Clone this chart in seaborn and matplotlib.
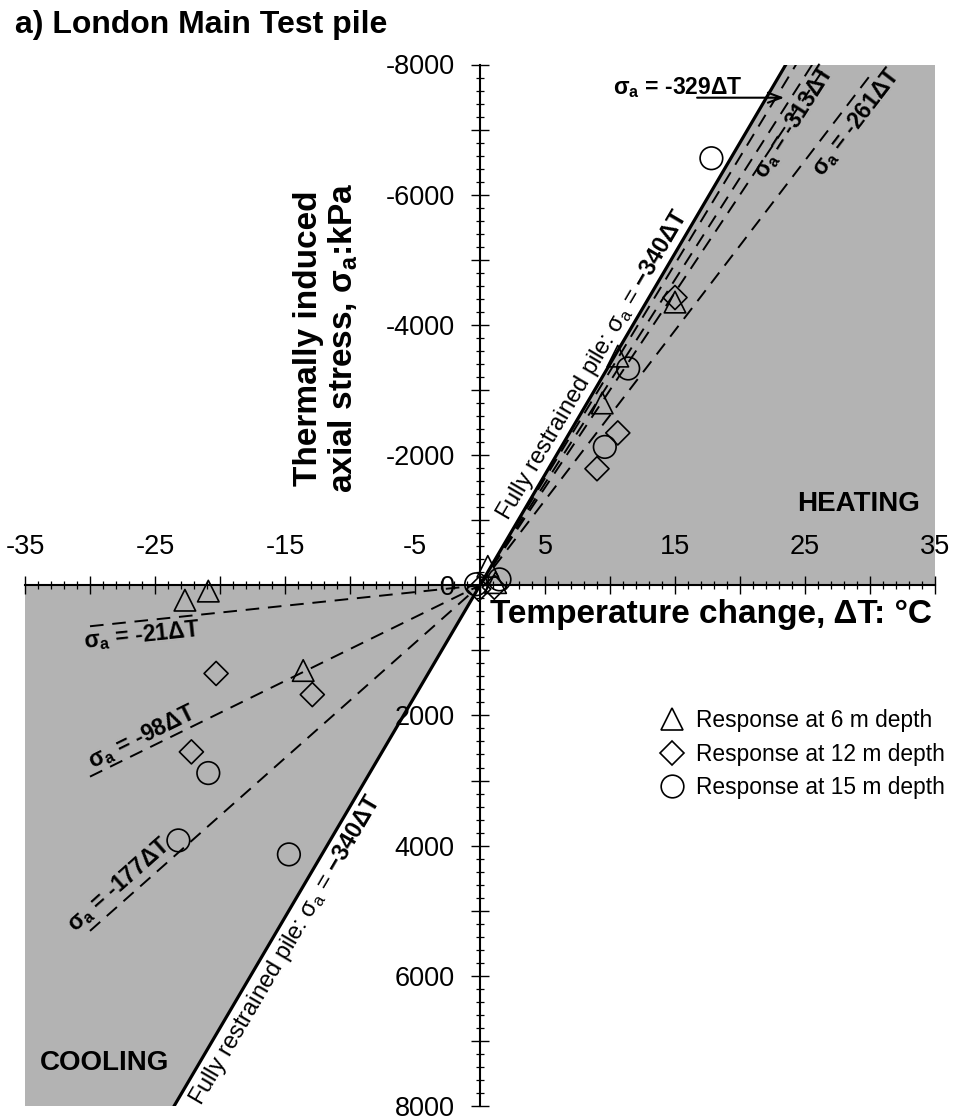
import numpy as np
import pandas as pd
import matplotlib
matplotlib.use('Agg')
import matplotlib.pyplot as plt
from matplotlib.lines import Line2D
from matplotlib.ticker import MultipleLocator, FuncFormatter
import seaborn as sns

# ---------------- data ----------------
x_tick_labels = [-35, -25, -15, -5, 5, 15, 25, 35]
y_tick_labels = [-8000, -6000, -4000, -2000, 0, 2000, 4000, 6000, 8000]

full_restraint_slope = -340
heating_slopes = [-329, -313, -300, -261]
cooling_slopes = [-21, -98, -177]
heating_fit_range = [0, 30]
cooling_fit_range = [-30, 0]

depth_names = ['Response at 6 m depth', 'Response at 12 m depth', 'Response at 15 m depth']
dT_6m = [-22.7, -20.9, -13.6, 0.6, 1.2, 9.4, 10.6, 15.0]
sig_6m = [230, 90, 1310, -290, -40, -2800, -3520, -4350]
dT_12m = [-22.2, -20.3, -12.9, -0.1, 1.1, 9.0, 10.6, 15.0]
sig_12m = [2560, 1355, 1680, 60, 30, -1790, -2340, -4420]
dT_15m = [-23.2, -20.9, -14.7, -0.3, 1.5, 9.6, 11.4, 17.8]
sig_15m = [3920, 2885, 4135, -15, -90, -2125, -3330, -6560]

# ---------------- style ----------------
sns.set_theme(style='ticks')
FONT = ['Liberation Sans', 'DejaVu Sans']
plt.rcParams['font.family'] = FONT
plt.rcParams['mathtext.fontset'] = 'custom'
plt.rcParams['mathtext.rm'] = 'Liberation Sans'
plt.rcParams['mathtext.it'] = 'Liberation Sans:italic'
plt.rcParams['mathtext.bf'] = 'Liberation Sans:bold'
plt.rcParams['axes.unicode_minus'] = False
plt.rcParams['text.color'] = 'black'

W, H = 963, 1120
fig = plt.figure(figsize=(W / 100, H / 100), dpi=100)
fig.patch.set_facecolor('white')
L, R, T, B = 25, 935, 64.5, 1106
ax = fig.add_axes([L / W, 1 - B / H, (R - L) / W, (B - T) / H])
ax.set_facecolor('white')
XMAX, YMAX = 35, 8000
ax.set_xlim(-XMAX, XMAX)
ax.set_ylim(YMAX, -YMAX)

ppT = (R - L) / (2 * XMAX)
ppS = (B - T) / (2 * YMAX)


def ang(slope):
    return np.degrees(np.arctan(abs(slope) * ppS / ppT))


GRAY = '#b3b3b3'
t_edge = YMAX / abs(full_restraint_slope)
ax.fill([0, t_edge, XMAX, XMAX], [0, -YMAX, -YMAX, 0], color=GRAY, lw=0, zorder=0)
ax.fill([0, -t_edge, -XMAX, -XMAX], [0, YMAX, YMAX, 0], color=GRAY, lw=0, zorder=0)

tt = np.array([-XMAX, XMAX])
ax.plot(tt, full_restraint_slope * tt, color='black', lw=2.3, zorder=2)
DASH = (0, (7, 4.5))
for s in heating_slopes:
    t = np.array(heating_fit_range, dtype=float)
    ax.plot(t, s * t, color='black', lw=1.4, ls=DASH, zorder=2)
for s in cooling_slopes:
    t = np.array(cooling_fit_range, dtype=float)
    ax.plot(t, s * t, color='black', lw=1.4, ls=DASH, zorder=2)

df = pd.concat([
    pd.DataFrame({'dT': dT_6m, 'sigma': sig_6m, 'depth': depth_names[0]}),
    pd.DataFrame({'dT': dT_12m, 'sigma': sig_12m, 'depth': depth_names[1]}),
    pd.DataFrame({'dT': dT_15m, 'sigma': sig_15m, 'depth': depth_names[2]}),
])
marker_spec = [('^', 240, 15.5), ('D', 150, 12.2), ('o', 265, 16.3)]
for name, (mk, size, ms) in zip(depth_names, marker_spec):
    sns.scatterplot(data=df[df['depth'] == name], x='dT', y='sigma', marker=mk, s=size,
                    facecolors='none', edgecolor='black', linewidth=1.2, ax=ax,
                    zorder=3, legend=False)
ax.set_xlabel('')
ax.set_ylabel('')

# ---------------- axes through origin ----------------
ax.spines['left'].set_position(('data', 0))
ax.spines['top'].set_position(('data', 0))
ax.spines['right'].set_visible(False)
ax.spines['bottom'].set_visible(False)
for sp in ['left', 'top']:
    ax.spines[sp].set_visible(True)
    ax.spines[sp].set_linewidth(1.5)
    ax.spines[sp].set_color('black')
    ax.spines[sp].set_zorder(2.6)
ax.xaxis.set_ticks_position('top')
ax.yaxis.set_ticks_position('left')
ax.xaxis.set_major_locator(MultipleLocator(5))
ax.xaxis.set_minor_locator(MultipleLocator(1))
ax.yaxis.set_major_locator(MultipleLocator(1000))
ax.yaxis.set_minor_locator(MultipleLocator(200))
ax.xaxis.set_major_formatter(FuncFormatter(lambda v, p: f'{v:.0f}' if int(round(v)) in x_tick_labels else ''))
ax.yaxis.set_major_formatter(FuncFormatter(lambda v, p: f'{v:.0f}' if int(round(v)) in y_tick_labels else ''))
ax.tick_params(which='both', direction='inout', color='black', labelcolor='black')
ax.tick_params(which='major', length=12.5, width=1.0, labelsize=19.5, pad=12)
ax.tick_params(which='minor', length=6, width=0.9)
ax.tick_params(axis='x', which='both', top=True, bottom=False, labeltop=True, labelbottom=False)
ax.tick_params(axis='y', which='both', left=True, right=False)

# ---------------- annotations ----------------
SIG = r'σ$_\mathregular{a}$'
FS = 16.5


def rot_text(x, y, s, slope, weight='bold', fs=FS):
    ax.text(x, y, s, rotation=ang(slope), rotation_mode='anchor', ha='left', va='baseline',
            fontsize=fs, fontweight=weight, zorder=5, color='black')


def along(slope, t0, off_pt, s, va, fs=FS):
    a = np.radians(ang(slope))
    ax.annotate(s, xy=(t0, slope * t0), xytext=(-np.sin(a) * off_pt, np.cos(a) * off_pt),
                textcoords='offset points', rotation=np.degrees(a), rotation_mode='anchor',
                ha='left', va=va, fontsize=fs, zorder=5, color='black')


full_txt = 'Fully restrained pile: ' + SIG + r' = $\mathbf{-340\Delta T}$'
along(full_restraint_slope, 2.67, 6, full_txt, 'baseline', fs=17)
along(full_restraint_slope, -23.0, -3, full_txt, 'top', fs=17)

rot_text(21.9, -6225, SIG + ' = -313ΔT', heating_slopes[1])
rot_text(26.3, -6271, SIG + ' = -261ΔT', heating_slopes[3])
rot_text(-30.46, 968, SIG + ' = -21ΔT', cooling_slopes[0])
rot_text(-29.85, 2813, SIG + ' = -98ΔT', cooling_slopes[1])
rot_text(-31.15, 5333, SIG + ' = -177ΔT', cooling_slopes[2])

ax.text(10.2, -7650, SIG + ' = -329ΔT', ha='left', va='center', fontsize=FS,
        fontweight='bold', zorder=5, color='black')
ax.annotate('', xy=(23.4, -7490), xytext=(16.7, -7490),
            arrowprops=dict(arrowstyle='->,head_length=0.8,head_width=0.3', lw=1.5,
                            color='black', shrinkA=0, shrinkB=0), zorder=5)

ax.text(33.85, -1253, 'HEATING', ha='right', va='center', fontsize=20, fontweight='bold',
        zorder=5, color='black')
ax.text(-33.85, 7340, 'COOLING', ha='left', va='center', fontsize=20, fontweight='bold',
        zorder=5, color='black')

fig.text(15 / W, 1 - 25 / H, 'a) London Main Test pile', ha='left', va='center',
         fontsize=23, fontweight='bold', color='black')
fig.text(490 / W, 1 - 615 / H, 'Temperature change, ΔT: °C', ha='left', va='center',
         fontsize=24, fontweight='bold', color='black')
fig.text(326 / W, 1 - 338 / H, 'Thermally induced\naxial stress, σ$_\\mathbf{a}$:kPa',
         rotation=90, ha='center', va='center', multialignment='center',
         fontsize=24, fontweight='bold', linespacing=1.1, color='black')

handles = [Line2D([], [], ls='none', marker=mk, ms=ms, mfc='none', mec='black', mew=1.2)
           for (mk, size, ms) in marker_spec]
leg = ax.legend(handles, depth_names, loc='center left', bbox_to_anchor=(661 / W, 1 - 754 / H),
                bbox_transform=fig.transFigure, frameon=False, fontsize=16.4, handlelength=1.0,
                handletextpad=0.55, labelspacing=0.45, borderpad=0, borderaxespad=0)
for t in leg.get_texts():
    t.set_color('black')

fig.savefig('out.png', dpi=100, facecolor='white')
